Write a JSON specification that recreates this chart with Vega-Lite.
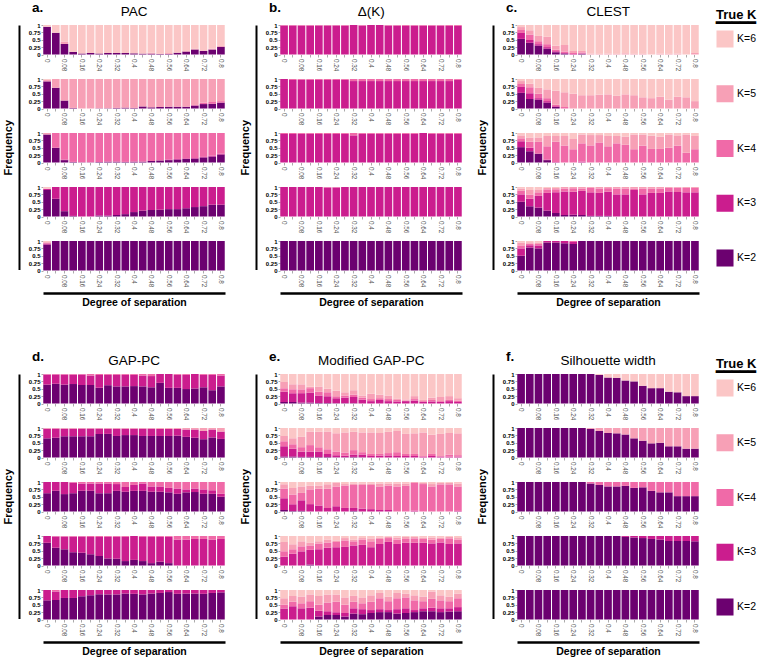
{
"$schema":"https://vega.github.io/schema/vega-lite/v6.json",
"padding":{"left":2,"top":0,"right":0,"bottom":0},
"config":{"font":"Liberation Sans","view":{"stroke":null},
"title":{"fontSize":13.5,"fontWeight":"normal","color":"black","offset":0},
"axisBand":{"labelAngle":90,"labelFontSize":6.3,"labelColor":"#555","tickSize":2.5,"tickColor":"#aaa","domain":false,"labelPadding":1.5,"grid":false},
"axisQuantitative":{"labelFontSize":6,"labelFontWeight":"bold","labelColor":"black","tickSize":2,"tickColor":"#aaa","domain":false,"labelPadding":1,"grid":false},
"legend":{"symbolType":"square","symbolSize":290,"symbolStrokeWidth":0,"rowPadding":36.75,"labelFontSize":10.5,"labelColor":"black","labelOffset":3,"titleFontSize":13,"titleFontWeight":"bold","titleColor":"black","titlePadding":0,"titleLineHeight":8}},
"datasets":{"d":[
{"m":"a","t":6,"s":0,"k2":0.94,"k6":0.06},
{"m":"a","t":6,"s":0.04,"k2":0.74,"k6":0.26},
{"m":"a","t":6,"s":0.08,"k2":0.36,"k5":0.08,"k6":0.56},
{"m":"a","t":6,"s":0.12,"k2":0.09,"k6":0.91},
{"m":"a","t":6,"s":0.16,"k2":0.03,"k6":0.97},
{"m":"a","t":6,"s":0.2,"k2":0.05,"k6":0.95},
{"m":"a","t":6,"s":0.24,"k2":0.03,"k6":0.97},
{"m":"a","t":6,"s":0.28,"k2":0.05,"k6":0.95},
{"m":"a","t":6,"s":0.32,"k2":0.05,"k6":0.95},
{"m":"a","t":6,"s":0.36,"k2":0.05,"k6":0.95},
{"m":"a","t":6,"s":0.4,"k2":0.04,"k6":0.96},
{"m":"a","t":6,"s":0.44,"k2":0.03,"k6":0.97},
{"m":"a","t":6,"s":0.48,"k2":0.03,"k5":0.03,"k6":0.94},
{"m":"a","t":6,"s":0.52,"k2":0.02,"k6":0.98},
{"m":"a","t":6,"s":0.56,"k2":0.02,"k5":0.03,"k6":0.95},
{"m":"a","t":6,"s":0.6,"k2":0.06,"k6":0.94},
{"m":"a","t":6,"s":0.64,"k2":0.1,"k5":0.02,"k6":0.88},
{"m":"a","t":6,"s":0.68,"k2":0.17,"k5":0.02,"k6":0.81},
{"m":"a","t":6,"s":0.72,"k2":0.12,"k5":0.02,"k6":0.86},
{"m":"a","t":6,"s":0.76,"k2":0.17,"k5":0.03,"k6":0.8},
{"m":"a","t":6,"s":0.8,"k2":0.26,"k5":0.03,"k6":0.71},
{"m":"a","t":5,"s":0,"k2":0.92,"k5":0.05,"k6":0.03},
{"m":"a","t":5,"s":0.04,"k2":0.7,"k5":0.3},
{"m":"a","t":5,"s":0.08,"k2":0.27,"k5":0.73},
{"m":"a","t":5,"s":0.12,"k2":0.02,"k5":0.98},
{"m":"a","t":5,"s":0.16,"k5":1},
{"m":"a","t":5,"s":0.2,"k5":1},
{"m":"a","t":5,"s":0.24,"k2":0.01,"k5":0.99},
{"m":"a","t":5,"s":0.28,"k2":0.01,"k5":0.99},
{"m":"a","t":5,"s":0.32,"k2":0.02,"k5":0.98},
{"m":"a","t":5,"s":0.36,"k2":0.03,"k5":0.97},
{"m":"a","t":5,"s":0.4,"k2":0.02,"k5":0.98},
{"m":"a","t":5,"s":0.44,"k2":0.07,"k5":0.93},
{"m":"a","t":5,"s":0.48,"k2":0.04,"k5":0.96},
{"m":"a","t":5,"s":0.52,"k2":0.05,"k5":0.95},
{"m":"a","t":5,"s":0.56,"k2":0.06,"k5":0.94},
{"m":"a","t":5,"s":0.6,"k2":0.06,"k5":0.94},
{"m":"a","t":5,"s":0.64,"k2":0.06,"k5":0.94},
{"m":"a","t":5,"s":0.68,"k2":0.1,"k4":0.02,"k5":0.88},
{"m":"a","t":5,"s":0.72,"k2":0.15,"k4":0.05,"k5":0.8},
{"m":"a","t":5,"s":0.76,"k2":0.16,"k4":0.06,"k5":0.78},
{"m":"a","t":5,"s":0.8,"k2":0.2,"k4":0.05,"k5":0.75},
{"m":"a","t":4,"s":0,"k2":0.95,"k5":0.05},
{"m":"a","t":4,"s":0.04,"k2":0.5,"k4":0.5},
{"m":"a","t":4,"s":0.08,"k2":0.08,"k3":0.02,"k4":0.9},
{"m":"a","t":4,"s":0.12,"k2":0.02,"k4":0.98},
{"m":"a","t":4,"s":0.16,"k2":0.01,"k4":0.99},
{"m":"a","t":4,"s":0.2,"k2":0.01,"k4":0.99},
{"m":"a","t":4,"s":0.24,"k2":0.02,"k4":0.98},
{"m":"a","t":4,"s":0.28,"k2":0.03,"k4":0.97},
{"m":"a","t":4,"s":0.32,"k2":0.03,"k4":0.97},
{"m":"a","t":4,"s":0.36,"k2":0.02,"k4":0.98},
{"m":"a","t":4,"s":0.4,"k2":0.03,"k4":0.97},
{"m":"a","t":4,"s":0.44,"k2":0.03,"k4":0.97},
{"m":"a","t":4,"s":0.48,"k2":0.05,"k4":0.95},
{"m":"a","t":4,"s":0.52,"k2":0.07,"k4":0.93},
{"m":"a","t":4,"s":0.56,"k2":0.08,"k3":0.02,"k4":0.9},
{"m":"a","t":4,"s":0.6,"k2":0.1,"k3":0.02,"k4":0.88},
{"m":"a","t":4,"s":0.64,"k2":0.12,"k3":0.02,"k4":0.86},
{"m":"a","t":4,"s":0.68,"k2":0.13,"k3":0.02,"k4":0.85},
{"m":"a","t":4,"s":0.72,"k2":0.17,"k3":0.02,"k4":0.81},
{"m":"a","t":4,"s":0.76,"k2":0.2,"k3":0.03,"k4":0.77},
{"m":"a","t":4,"s":0.8,"k2":0.27,"k3":0.03,"k4":0.7},
{"m":"a","t":3,"s":0,"k2":0.9,"k3":0.04,"k6":0.06},
{"m":"a","t":3,"s":0.04,"k2":0.6,"k3":0.4},
{"m":"a","t":3,"s":0.08,"k2":0.18,"k3":0.82},
{"m":"a","t":3,"s":0.12,"k2":0.02,"k3":0.98},
{"m":"a","t":3,"s":0.16,"k3":1},
{"m":"a","t":3,"s":0.2,"k3":1},
{"m":"a","t":3,"s":0.24,"k2":0.03,"k3":0.97},
{"m":"a","t":3,"s":0.28,"k2":0.03,"k3":0.97},
{"m":"a","t":3,"s":0.32,"k2":0.05,"k3":0.95},
{"m":"a","t":3,"s":0.36,"k2":0.08,"k3":0.92},
{"m":"a","t":3,"s":0.4,"k2":0.15,"k3":0.85},
{"m":"a","t":3,"s":0.44,"k2":0.2,"k3":0.8},
{"m":"a","t":3,"s":0.48,"k2":0.22,"k3":0.78},
{"m":"a","t":3,"s":0.52,"k2":0.23,"k3":0.77},
{"m":"a","t":3,"s":0.56,"k2":0.25,"k3":0.75},
{"m":"a","t":3,"s":0.6,"k2":0.25,"k3":0.75},
{"m":"a","t":3,"s":0.64,"k2":0.28,"k3":0.72},
{"m":"a","t":3,"s":0.68,"k2":0.32,"k3":0.68},
{"m":"a","t":3,"s":0.72,"k2":0.35,"k3":0.65},
{"m":"a","t":3,"s":0.76,"k2":0.4,"k3":0.6},
{"m":"a","t":3,"s":0.8,"k2":0.4,"k3":0.6},
{"m":"a","t":2,"s":0,"k2":0.88,"k3":0.04,"k5":0.04,"k6":0.04},
{"m":"a","t":2,"s":0.04,"k2":1},
{"m":"a","t":2,"s":0.08,"k2":1},
{"m":"a","t":2,"s":0.12,"k2":1},
{"m":"a","t":2,"s":0.16,"k2":1},
{"m":"a","t":2,"s":0.2,"k2":1},
{"m":"a","t":2,"s":0.24,"k2":1},
{"m":"a","t":2,"s":0.28,"k2":1},
{"m":"a","t":2,"s":0.32,"k2":1},
{"m":"a","t":2,"s":0.36,"k2":1},
{"m":"a","t":2,"s":0.4,"k2":1},
{"m":"a","t":2,"s":0.44,"k2":1},
{"m":"a","t":2,"s":0.48,"k2":1},
{"m":"a","t":2,"s":0.52,"k2":1},
{"m":"a","t":2,"s":0.56,"k2":1},
{"m":"a","t":2,"s":0.6,"k2":1},
{"m":"a","t":2,"s":0.64,"k2":1},
{"m":"a","t":2,"s":0.68,"k2":1},
{"m":"a","t":2,"s":0.72,"k2":1},
{"m":"a","t":2,"s":0.76,"k2":1},
{"m":"a","t":2,"s":0.8,"k2":1},
{"m":"b","t":6,"s":0,"k3":0.98,"k4":0.02},
{"m":"b","t":6,"s":0.04,"k3":0.98,"k4":0.02},
{"m":"b","t":6,"s":0.08,"k3":0.98,"k4":0.02},
{"m":"b","t":6,"s":0.12,"k3":0.98,"k4":0.02},
{"m":"b","t":6,"s":0.16,"k3":0.98,"k4":0.02},
{"m":"b","t":6,"s":0.2,"k3":0.98,"k4":0.02},
{"m":"b","t":6,"s":0.24,"k3":0.98,"k4":0.02},
{"m":"b","t":6,"s":0.28,"k3":0.98,"k4":0.02},
{"m":"b","t":6,"s":0.32,"k3":1},
{"m":"b","t":6,"s":0.36,"k3":0.98,"k4":0.02},
{"m":"b","t":6,"s":0.4,"k3":1},
{"m":"b","t":6,"s":0.44,"k3":1},
{"m":"b","t":6,"s":0.48,"k3":0.98,"k4":0.02},
{"m":"b","t":6,"s":0.52,"k3":0.98,"k4":0.02},
{"m":"b","t":6,"s":0.56,"k3":0.97,"k4":0.03},
{"m":"b","t":6,"s":0.6,"k3":0.98,"k4":0.02},
{"m":"b","t":6,"s":0.64,"k3":0.98,"k4":0.02},
{"m":"b","t":6,"s":0.68,"k3":0.98,"k4":0.02},
{"m":"b","t":6,"s":0.72,"k3":0.98,"k4":0.02},
{"m":"b","t":6,"s":0.76,"k3":0.97,"k4":0.03},
{"m":"b","t":6,"s":0.8,"k3":0.97,"k4":0.03},
{"m":"b","t":5,"s":0,"k3":1},
{"m":"b","t":5,"s":0.04,"k3":0.97,"k4":0.03},
{"m":"b","t":5,"s":0.08,"k3":0.97,"k4":0.03},
{"m":"b","t":5,"s":0.12,"k3":0.97,"k4":0.03},
{"m":"b","t":5,"s":0.16,"k3":0.97,"k4":0.03},
{"m":"b","t":5,"s":0.2,"k3":0.97,"k4":0.03},
{"m":"b","t":5,"s":0.24,"k3":0.97,"k4":0.03},
{"m":"b","t":5,"s":0.28,"k3":0.97,"k4":0.03},
{"m":"b","t":5,"s":0.32,"k3":0.93,"k4":0.07},
{"m":"b","t":5,"s":0.36,"k3":0.93,"k4":0.07},
{"m":"b","t":5,"s":0.4,"k3":0.93,"k4":0.07},
{"m":"b","t":5,"s":0.44,"k3":0.93,"k4":0.07},
{"m":"b","t":5,"s":0.48,"k3":0.93,"k4":0.07},
{"m":"b","t":5,"s":0.52,"k3":0.93,"k4":0.07},
{"m":"b","t":5,"s":0.56,"k3":0.93,"k4":0.07},
{"m":"b","t":5,"s":0.6,"k3":0.93,"k4":0.07},
{"m":"b","t":5,"s":0.64,"k3":0.93,"k4":0.07},
{"m":"b","t":5,"s":0.68,"k3":0.93,"k4":0.07},
{"m":"b","t":5,"s":0.72,"k3":0.93,"k4":0.07},
{"m":"b","t":5,"s":0.76,"k3":0.93,"k4":0.07},
{"m":"b","t":5,"s":0.8,"k3":0.97,"k4":0.03},
{"m":"b","t":4,"s":0,"k3":0.97,"k4":0.03},
{"m":"b","t":4,"s":0.04,"k3":0.97,"k4":0.03},
{"m":"b","t":4,"s":0.08,"k3":0.97,"k4":0.03},
{"m":"b","t":4,"s":0.12,"k3":0.97,"k4":0.03},
{"m":"b","t":4,"s":0.16,"k3":0.97,"k4":0.03},
{"m":"b","t":4,"s":0.2,"k3":0.97,"k4":0.03},
{"m":"b","t":4,"s":0.24,"k3":0.97,"k4":0.03},
{"m":"b","t":4,"s":0.28,"k3":0.97,"k4":0.03},
{"m":"b","t":4,"s":0.32,"k3":0.92,"k4":0.08},
{"m":"b","t":4,"s":0.36,"k3":0.97,"k4":0.03},
{"m":"b","t":4,"s":0.4,"k3":0.97,"k4":0.03},
{"m":"b","t":4,"s":0.44,"k3":0.97,"k4":0.03},
{"m":"b","t":4,"s":0.48,"k3":0.97,"k4":0.03},
{"m":"b","t":4,"s":0.52,"k3":0.97,"k4":0.03},
{"m":"b","t":4,"s":0.56,"k3":0.97,"k4":0.03},
{"m":"b","t":4,"s":0.6,"k3":0.97,"k4":0.03},
{"m":"b","t":4,"s":0.64,"k3":1},
{"m":"b","t":4,"s":0.68,"k3":0.97,"k4":0.03},
{"m":"b","t":4,"s":0.72,"k3":0.97,"k4":0.03},
{"m":"b","t":4,"s":0.76,"k3":0.97,"k4":0.03},
{"m":"b","t":4,"s":0.8,"k3":0.97,"k4":0.03},
{"m":"b","t":3,"s":0,"k3":1},
{"m":"b","t":3,"s":0.04,"k3":1},
{"m":"b","t":3,"s":0.08,"k3":1},
{"m":"b","t":3,"s":0.12,"k3":1},
{"m":"b","t":3,"s":0.16,"k3":1},
{"m":"b","t":3,"s":0.2,"k3":0.98,"k4":0.02},
{"m":"b","t":3,"s":0.24,"k3":0.98,"k4":0.02},
{"m":"b","t":3,"s":0.28,"k3":1},
{"m":"b","t":3,"s":0.32,"k3":1},
{"m":"b","t":3,"s":0.36,"k3":1},
{"m":"b","t":3,"s":0.4,"k3":1},
{"m":"b","t":3,"s":0.44,"k3":1},
{"m":"b","t":3,"s":0.48,"k3":1},
{"m":"b","t":3,"s":0.52,"k3":1},
{"m":"b","t":3,"s":0.56,"k3":1},
{"m":"b","t":3,"s":0.6,"k3":1},
{"m":"b","t":3,"s":0.64,"k3":1},
{"m":"b","t":3,"s":0.68,"k3":1},
{"m":"b","t":3,"s":0.72,"k3":1},
{"m":"b","t":3,"s":0.76,"k3":1},
{"m":"b","t":3,"s":0.8,"k3":1},
{"m":"b","t":2,"s":0,"k2":1},
{"m":"b","t":2,"s":0.04,"k2":1},
{"m":"b","t":2,"s":0.08,"k2":1},
{"m":"b","t":2,"s":0.12,"k2":1},
{"m":"b","t":2,"s":0.16,"k2":1},
{"m":"b","t":2,"s":0.2,"k2":1},
{"m":"b","t":2,"s":0.24,"k2":1},
{"m":"b","t":2,"s":0.28,"k2":1},
{"m":"b","t":2,"s":0.32,"k2":1},
{"m":"b","t":2,"s":0.36,"k2":1},
{"m":"b","t":2,"s":0.4,"k2":1},
{"m":"b","t":2,"s":0.44,"k2":1},
{"m":"b","t":2,"s":0.48,"k2":1},
{"m":"b","t":2,"s":0.52,"k2":1},
{"m":"b","t":2,"s":0.56,"k2":1},
{"m":"b","t":2,"s":0.6,"k2":1},
{"m":"b","t":2,"s":0.64,"k2":1},
{"m":"b","t":2,"s":0.68,"k2":1},
{"m":"b","t":2,"s":0.72,"k2":1},
{"m":"b","t":2,"s":0.76,"k2":1},
{"m":"b","t":2,"s":0.8,"k2":1},
{"m":"c","t":6,"s":0,"k2":0.53,"k3":0.2,"k4":0.1,"k5":0.1,"k6":0.07},
{"m":"c","t":6,"s":0.04,"k2":0.4,"k3":0.09,"k4":0.19,"k5":0.14,"k6":0.18},
{"m":"c","t":6,"s":0.08,"k2":0.3,"k3":0.05,"k4":0.1,"k5":0.18,"k6":0.37},
{"m":"c","t":6,"s":0.12,"k2":0.2,"k3":0.05,"k4":0.1,"k5":0.25,"k6":0.4},
{"m":"c","t":6,"s":0.16,"k2":0.08,"k3":0.03,"k4":0.05,"k5":0.14,"k6":0.7},
{"m":"c","t":6,"s":0.2,"k2":0.03,"k3":0.02,"k4":0.05,"k5":0.22,"k6":0.68},
{"m":"c","t":6,"s":0.24,"k3":0.02,"k4":0.03,"k5":0.07,"k6":0.88},
{"m":"c","t":6,"s":0.28,"k2":0.03,"k4":0.04,"k5":0.05,"k6":0.88},
{"m":"c","t":6,"s":0.32,"k5":0.03,"k6":0.97},
{"m":"c","t":6,"s":0.36,"k5":0.02,"k6":0.98},
{"m":"c","t":6,"s":0.4,"k5":0.03,"k6":0.97},
{"m":"c","t":6,"s":0.44,"k5":0.02,"k6":0.98},
{"m":"c","t":6,"s":0.48,"k5":0.04,"k6":0.96},
{"m":"c","t":6,"s":0.52,"k5":0.02,"k6":0.98},
{"m":"c","t":6,"s":0.56,"k5":0.02,"k6":0.98},
{"m":"c","t":6,"s":0.6,"k6":1},
{"m":"c","t":6,"s":0.64,"k5":0.03,"k6":0.97},
{"m":"c","t":6,"s":0.68,"k5":0.02,"k6":0.98},
{"m":"c","t":6,"s":0.72,"k5":0.03,"k6":0.97},
{"m":"c","t":6,"s":0.76,"k6":1},
{"m":"c","t":6,"s":0.8,"k5":0.05,"k6":0.95},
{"m":"c","t":5,"s":0,"k2":0.53,"k3":0.2,"k4":0.1,"k5":0.1,"k6":0.07},
{"m":"c","t":5,"s":0.04,"k2":0.32,"k3":0.2,"k4":0.2,"k5":0.12,"k6":0.16},
{"m":"c","t":5,"s":0.08,"k2":0.3,"k3":0.05,"k4":0.15,"k5":0.2,"k6":0.3},
{"m":"c","t":5,"s":0.12,"k2":0.2,"k3":0.05,"k4":0.1,"k5":0.3,"k6":0.35},
{"m":"c","t":5,"s":0.16,"k2":0.05,"k3":0.03,"k4":0.05,"k5":0.47,"k6":0.4},
{"m":"c","t":5,"s":0.2,"k4":0.05,"k5":0.5,"k6":0.45},
{"m":"c","t":5,"s":0.24,"k5":0.5,"k6":0.5},
{"m":"c","t":5,"s":0.28,"k5":0.45,"k6":0.55},
{"m":"c","t":5,"s":0.32,"k5":0.45,"k6":0.55},
{"m":"c","t":5,"s":0.36,"k5":0.47,"k6":0.53},
{"m":"c","t":5,"s":0.4,"k5":0.48,"k6":0.52},
{"m":"c","t":5,"s":0.44,"k5":0.43,"k6":0.57},
{"m":"c","t":5,"s":0.48,"k5":0.48,"k6":0.52},
{"m":"c","t":5,"s":0.52,"k5":0.45,"k6":0.55},
{"m":"c","t":5,"s":0.56,"k5":0.38,"k6":0.62},
{"m":"c","t":5,"s":0.6,"k5":0.35,"k6":0.65},
{"m":"c","t":5,"s":0.64,"k5":0.4,"k6":0.6},
{"m":"c","t":5,"s":0.68,"k5":0.3,"k6":0.7},
{"m":"c","t":5,"s":0.72,"k5":0.4,"k6":0.6},
{"m":"c","t":5,"s":0.76,"k5":0.38,"k6":0.62},
{"m":"c","t":5,"s":0.8,"k5":0.25,"k6":0.75},
{"m":"c","t":4,"s":0,"k2":0.52,"k3":0.2,"k4":0.1,"k5":0.1,"k6":0.08},
{"m":"c","t":4,"s":0.04,"k2":0.38,"k3":0.12,"k4":0.2,"k5":0.15,"k6":0.15},
{"m":"c","t":4,"s":0.08,"k2":0.3,"k4":0.4,"k5":0.15,"k6":0.15},
{"m":"c","t":4,"s":0.12,"k2":0.08,"k3":0.02,"k4":0.45,"k5":0.35,"k6":0.1},
{"m":"c","t":4,"s":0.16,"k3":0.02,"k4":0.68,"k5":0.2,"k6":0.1},
{"m":"c","t":4,"s":0.2,"k4":0.58,"k5":0.32,"k6":0.1},
{"m":"c","t":4,"s":0.24,"k4":0.45,"k5":0.35,"k6":0.2},
{"m":"c","t":4,"s":0.28,"k3":0.03,"k4":0.62,"k5":0.3,"k6":0.05},
{"m":"c","t":4,"s":0.32,"k4":0.58,"k5":0.35,"k6":0.07},
{"m":"c","t":4,"s":0.36,"k4":0.68,"k5":0.25,"k6":0.07},
{"m":"c","t":4,"s":0.4,"k4":0.55,"k5":0.35,"k6":0.1},
{"m":"c","t":4,"s":0.44,"k4":0.65,"k5":0.25,"k6":0.1},
{"m":"c","t":4,"s":0.48,"k4":0.6,"k5":0.28,"k6":0.12},
{"m":"c","t":4,"s":0.52,"k4":0.45,"k5":0.5,"k6":0.05},
{"m":"c","t":4,"s":0.56,"k4":0.57,"k5":0.38,"k6":0.05},
{"m":"c","t":4,"s":0.6,"k4":0.46,"k5":0.45,"k6":0.09},
{"m":"c","t":4,"s":0.64,"k4":0.46,"k5":0.42,"k6":0.12},
{"m":"c","t":4,"s":0.68,"k4":0.5,"k5":0.45,"k6":0.05},
{"m":"c","t":4,"s":0.72,"k4":0.57,"k5":0.35,"k6":0.08},
{"m":"c","t":4,"s":0.76,"k4":0.33,"k5":0.62,"k6":0.05},
{"m":"c","t":4,"s":0.8,"k4":0.45,"k5":0.45,"k6":0.1},
{"m":"c","t":3,"s":0,"k2":0.5,"k3":0.25,"k4":0.12,"k5":0.08,"k6":0.05},
{"m":"c","t":3,"s":0.04,"k2":0.35,"k3":0.25,"k4":0.15,"k5":0.15,"k6":0.1},
{"m":"c","t":3,"s":0.08,"k2":0.3,"k3":0.4,"k4":0.12,"k5":0.1,"k6":0.08},
{"m":"c","t":3,"s":0.12,"k2":0.2,"k3":0.6,"k4":0.12,"k5":0.05,"k6":0.03},
{"m":"c","t":3,"s":0.16,"k2":0.12,"k3":0.7,"k4":0.1,"k5":0.05,"k6":0.03},
{"m":"c","t":3,"s":0.2,"k2":0.05,"k3":0.8,"k4":0.1,"k5":0.05},
{"m":"c","t":3,"s":0.24,"k2":0.06,"k3":0.78,"k4":0.12,"k5":0.04},
{"m":"c","t":3,"s":0.28,"k2":0.05,"k3":0.82,"k4":0.08,"k5":0.05},
{"m":"c","t":3,"s":0.32,"k2":0.02,"k3":0.8,"k4":0.15,"k5":0.03},
{"m":"c","t":3,"s":0.36,"k2":0.02,"k3":0.78,"k4":0.15,"k5":0.05},
{"m":"c","t":3,"s":0.4,"k2":0.02,"k3":0.82,"k4":0.12,"k5":0.04},
{"m":"c","t":3,"s":0.44,"k3":0.75,"k4":0.2,"k5":0.05},
{"m":"c","t":3,"s":0.48,"k3":0.75,"k4":0.2,"k5":0.05},
{"m":"c","t":3,"s":0.52,"k3":0.9,"k4":0.05,"k5":0.05},
{"m":"c","t":3,"s":0.56,"k3":0.75,"k4":0.2,"k5":0.05},
{"m":"c","t":3,"s":0.6,"k3":0.8,"k4":0.15,"k5":0.05},
{"m":"c","t":3,"s":0.64,"k3":0.8,"k4":0.15,"k5":0.05},
{"m":"c","t":3,"s":0.68,"k3":0.85,"k4":0.12,"k5":0.03},
{"m":"c","t":3,"s":0.72,"k3":0.83,"k4":0.15,"k5":0.02},
{"m":"c","t":3,"s":0.76,"k3":0.82,"k4":0.15,"k5":0.03},
{"m":"c","t":3,"s":0.8,"k3":0.82,"k4":0.15,"k5":0.03},
{"m":"c","t":2,"s":0,"k2":0.5,"k3":0.25,"k4":0.1,"k5":0.1,"k6":0.05},
{"m":"c","t":2,"s":0.04,"k2":0.78,"k3":0.08,"k4":0.05,"k5":0.05,"k6":0.04},
{"m":"c","t":2,"s":0.08,"k2":0.75,"k3":0.1,"k4":0.05,"k5":0.05,"k6":0.05},
{"m":"c","t":2,"s":0.12,"k2":0.95,"k3":0.05},
{"m":"c","t":2,"s":0.16,"k2":0.95,"k3":0.05},
{"m":"c","t":2,"s":0.2,"k2":0.92,"k3":0.08},
{"m":"c","t":2,"s":0.24,"k2":0.9,"k3":0.07,"k4":0.03},
{"m":"c","t":2,"s":0.28,"k2":1},
{"m":"c","t":2,"s":0.32,"k2":1},
{"m":"c","t":2,"s":0.36,"k2":1},
{"m":"c","t":2,"s":0.4,"k2":1},
{"m":"c","t":2,"s":0.44,"k2":1},
{"m":"c","t":2,"s":0.48,"k2":1},
{"m":"c","t":2,"s":0.52,"k2":1},
{"m":"c","t":2,"s":0.56,"k2":1},
{"m":"c","t":2,"s":0.6,"k2":1},
{"m":"c","t":2,"s":0.64,"k2":1},
{"m":"c","t":2,"s":0.68,"k2":1},
{"m":"c","t":2,"s":0.72,"k2":1},
{"m":"c","t":2,"s":0.76,"k2":1},
{"m":"c","t":2,"s":0.8,"k2":1},
{"m":"d","t":6,"s":0,"k2":0.64,"k3":0.34,"k4":0.02},
{"m":"d","t":6,"s":0.04,"k2":0.67,"k3":0.31,"k4":0.02},
{"m":"d","t":6,"s":0.08,"k2":0.64,"k3":0.34,"k4":0.02},
{"m":"d","t":6,"s":0.12,"k2":0.66,"k3":0.32,"k4":0.02},
{"m":"d","t":6,"s":0.16,"k2":0.63,"k3":0.35,"k4":0.02},
{"m":"d","t":6,"s":0.2,"k2":0.63,"k3":0.32,"k4":0.05},
{"m":"d","t":6,"s":0.24,"k2":0.53,"k3":0.44,"k4":0.03},
{"m":"d","t":6,"s":0.28,"k2":0.62,"k3":0.35,"k4":0.03},
{"m":"d","t":6,"s":0.32,"k2":0.58,"k3":0.39,"k4":0.03},
{"m":"d","t":6,"s":0.36,"k2":0.58,"k3":0.39,"k4":0.03},
{"m":"d","t":6,"s":0.4,"k2":0.59,"k3":0.38,"k4":0.03},
{"m":"d","t":6,"s":0.44,"k2":0.58,"k3":0.37,"k4":0.05},
{"m":"d","t":6,"s":0.48,"k2":0.55,"k3":0.38,"k4":0.07},
{"m":"d","t":6,"s":0.52,"k2":0.7,"k3":0.3},
{"m":"d","t":6,"s":0.56,"k2":0.53,"k3":0.47},
{"m":"d","t":6,"s":0.6,"k2":0.53,"k3":0.44,"k4":0.03},
{"m":"d","t":6,"s":0.64,"k2":0.49,"k3":0.48,"k4":0.03},
{"m":"d","t":6,"s":0.68,"k2":0.51,"k3":0.49},
{"m":"d","t":6,"s":0.72,"k2":0.55,"k3":0.42,"k4":0.03},
{"m":"d","t":6,"s":0.76,"k2":0.45,"k3":0.52,"k4":0.03},
{"m":"d","t":6,"s":0.8,"k2":0.58,"k3":0.37,"k4":0.05},
{"m":"d","t":5,"s":0,"k2":0.65,"k3":0.33,"k5":0.02},
{"m":"d","t":5,"s":0.04,"k2":0.67,"k3":0.31,"k5":0.02},
{"m":"d","t":5,"s":0.08,"k2":0.72,"k3":0.26,"k5":0.02},
{"m":"d","t":5,"s":0.12,"k2":0.72,"k3":0.26,"k5":0.02},
{"m":"d","t":5,"s":0.16,"k2":0.72,"k3":0.26,"k5":0.02},
{"m":"d","t":5,"s":0.2,"k2":0.72,"k3":0.26,"k5":0.02},
{"m":"d","t":5,"s":0.24,"k2":0.8,"k3":0.18,"k5":0.02},
{"m":"d","t":5,"s":0.28,"k2":0.8,"k3":0.18,"k5":0.02},
{"m":"d","t":5,"s":0.32,"k2":0.73,"k3":0.25,"k5":0.02},
{"m":"d","t":5,"s":0.36,"k2":0.76,"k3":0.22,"k5":0.02},
{"m":"d","t":5,"s":0.4,"k2":0.76,"k3":0.22,"k5":0.02},
{"m":"d","t":5,"s":0.44,"k2":0.73,"k3":0.25,"k5":0.02},
{"m":"d","t":5,"s":0.48,"k2":0.73,"k3":0.25,"k5":0.02},
{"m":"d","t":5,"s":0.52,"k2":0.73,"k3":0.24,"k5":0.03},
{"m":"d","t":5,"s":0.56,"k2":0.73,"k3":0.24,"k5":0.03},
{"m":"d","t":5,"s":0.6,"k2":0.74,"k3":0.23,"k5":0.03},
{"m":"d","t":5,"s":0.64,"k2":0.7,"k3":0.25,"k5":0.05},
{"m":"d","t":5,"s":0.68,"k2":0.67,"k3":0.28,"k5":0.05},
{"m":"d","t":5,"s":0.72,"k2":0.62,"k3":0.28,"k5":0.1},
{"m":"d","t":5,"s":0.76,"k2":0.68,"k3":0.27,"k5":0.05},
{"m":"d","t":5,"s":0.8,"k2":0.63,"k3":0.25,"k5":0.12},
{"m":"d","t":4,"s":0,"k2":0.62,"k3":0.38},
{"m":"d","t":4,"s":0.04,"k2":0.7,"k3":0.3},
{"m":"d","t":4,"s":0.08,"k2":0.59,"k3":0.41},
{"m":"d","t":4,"s":0.12,"k2":0.62,"k3":0.36,"k4":0.02},
{"m":"d","t":4,"s":0.16,"k2":0.7,"k3":0.25,"k4":0.05},
{"m":"d","t":4,"s":0.2,"k2":0.7,"k3":0.25,"k4":0.05},
{"m":"d","t":4,"s":0.24,"k2":0.62,"k3":0.33,"k4":0.05},
{"m":"d","t":4,"s":0.28,"k2":0.62,"k3":0.33,"k4":0.05},
{"m":"d","t":4,"s":0.32,"k2":0.7,"k3":0.23,"k4":0.07},
{"m":"d","t":4,"s":0.36,"k2":0.67,"k3":0.16,"k4":0.17},
{"m":"d","t":4,"s":0.4,"k2":0.7,"k3":0.2,"k4":0.1},
{"m":"d","t":4,"s":0.44,"k2":0.7,"k3":0.25,"k4":0.05},
{"m":"d","t":4,"s":0.48,"k2":0.67,"k3":0.18,"k4":0.15},
{"m":"d","t":4,"s":0.52,"k2":0.67,"k3":0.18,"k4":0.15},
{"m":"d","t":4,"s":0.56,"k2":0.65,"k3":0.15,"k4":0.2},
{"m":"d","t":4,"s":0.6,"k2":0.6,"k3":0.18,"k4":0.22},
{"m":"d","t":4,"s":0.64,"k2":0.65,"k3":0.1,"k4":0.25},
{"m":"d","t":4,"s":0.68,"k2":0.66,"k3":0.12,"k4":0.22},
{"m":"d","t":4,"s":0.72,"k2":0.6,"k3":0.15,"k4":0.25},
{"m":"d","t":4,"s":0.76,"k2":0.6,"k3":0.12,"k4":0.28},
{"m":"d","t":4,"s":0.8,"k2":0.5,"k3":0.1,"k4":0.4},
{"m":"d","t":3,"s":0,"k2":0.77,"k3":0.23},
{"m":"d","t":3,"s":0.04,"k2":0.6,"k3":0.38,"k4":0.02},
{"m":"d","t":3,"s":0.08,"k2":0.55,"k3":0.43,"k4":0.02},
{"m":"d","t":3,"s":0.12,"k2":0.45,"k3":0.53,"k4":0.02},
{"m":"d","t":3,"s":0.16,"k2":0.43,"k3":0.55,"k4":0.02},
{"m":"d","t":3,"s":0.2,"k2":0.38,"k3":0.59,"k4":0.03},
{"m":"d","t":3,"s":0.24,"k2":0.32,"k3":0.65,"k4":0.03},
{"m":"d","t":3,"s":0.28,"k2":0.24,"k3":0.73,"k4":0.03},
{"m":"d","t":3,"s":0.32,"k2":0.23,"k3":0.74,"k4":0.03},
{"m":"d","t":3,"s":0.36,"k2":0.15,"k3":0.82,"k4":0.03},
{"m":"d","t":3,"s":0.4,"k2":0.19,"k3":0.81},
{"m":"d","t":3,"s":0.44,"k2":0.15,"k3":0.82,"k4":0.03},
{"m":"d","t":3,"s":0.48,"k2":0.08,"k3":0.89,"k4":0.03},
{"m":"d","t":3,"s":0.52,"k2":0.13,"k3":0.84,"k4":0.03},
{"m":"d","t":3,"s":0.56,"k2":0.08,"k3":0.89,"k4":0.03},
{"m":"d","t":3,"s":0.6,"k3":0.88,"k4":0.12},
{"m":"d","t":3,"s":0.64,"k3":0.88,"k4":0.12},
{"m":"d","t":3,"s":0.68,"k3":0.9,"k4":0.1},
{"m":"d","t":3,"s":0.72,"k3":0.9,"k4":0.1},
{"m":"d","t":3,"s":0.76,"k3":0.88,"k4":0.12},
{"m":"d","t":3,"s":0.8,"k3":0.9,"k4":0.1},
{"m":"d","t":2,"s":0,"k2":0.65,"k3":0.35},
{"m":"d","t":2,"s":0.04,"k2":0.66,"k3":0.29,"k4":0.05},
{"m":"d","t":2,"s":0.08,"k2":0.73,"k3":0.27},
{"m":"d","t":2,"s":0.12,"k2":0.73,"k3":0.27},
{"m":"d","t":2,"s":0.16,"k2":0.79,"k3":0.21},
{"m":"d","t":2,"s":0.2,"k2":0.82,"k3":0.18},
{"m":"d","t":2,"s":0.24,"k2":0.86,"k3":0.14},
{"m":"d","t":2,"s":0.28,"k2":0.85,"k3":0.15},
{"m":"d","t":2,"s":0.32,"k2":0.85,"k3":0.15},
{"m":"d","t":2,"s":0.36,"k2":0.88,"k3":0.12},
{"m":"d","t":2,"s":0.4,"k2":0.87,"k3":0.13},
{"m":"d","t":2,"s":0.44,"k2":0.85,"k3":0.15},
{"m":"d","t":2,"s":0.48,"k2":0.88,"k3":0.12},
{"m":"d","t":2,"s":0.52,"k2":0.9,"k3":0.1},
{"m":"d","t":2,"s":0.56,"k2":0.93,"k3":0.07},
{"m":"d","t":2,"s":0.6,"k2":0.87,"k3":0.13},
{"m":"d","t":2,"s":0.64,"k2":0.88,"k3":0.12},
{"m":"d","t":2,"s":0.68,"k2":0.88,"k3":0.12},
{"m":"d","t":2,"s":0.72,"k2":0.87,"k3":0.13},
{"m":"d","t":2,"s":0.76,"k2":0.9,"k3":0.1},
{"m":"d","t":2,"s":0.8,"k2":0.92,"k3":0.08},
{"m":"e","t":6,"s":0,"k2":0.05,"k3":0.35,"k4":0.12,"k5":0.21,"k6":0.27},
{"m":"e","t":6,"s":0.04,"k2":0.05,"k3":0.3,"k4":0.13,"k5":0.17,"k6":0.35},
{"m":"e","t":6,"s":0.08,"k2":0.03,"k3":0.32,"k4":0.13,"k5":0.17,"k6":0.35},
{"m":"e","t":6,"s":0.12,"k2":0.03,"k3":0.34,"k4":0.15,"k5":0.05,"k6":0.43},
{"m":"e","t":6,"s":0.16,"k2":0.02,"k3":0.25,"k4":0.13,"k5":0.18,"k6":0.42},
{"m":"e","t":6,"s":0.2,"k2":0.02,"k3":0.23,"k4":0.13,"k5":0.12,"k6":0.5},
{"m":"e","t":6,"s":0.24,"k2":0.01,"k3":0.17,"k4":0.07,"k5":0.18,"k6":0.57},
{"m":"e","t":6,"s":0.28,"k2":0.01,"k3":0.19,"k4":0.07,"k5":0.11,"k6":0.62},
{"m":"e","t":6,"s":0.32,"k2":0.01,"k3":0.21,"k4":0.08,"k5":0.15,"k6":0.55},
{"m":"e","t":6,"s":0.36,"k3":0.13,"k4":0.07,"k5":0.07,"k6":0.73},
{"m":"e","t":6,"s":0.4,"k3":0.08,"k4":0.07,"k5":0.18,"k6":0.67},
{"m":"e","t":6,"s":0.44,"k3":0.12,"k4":0.06,"k5":0.12,"k6":0.7},
{"m":"e","t":6,"s":0.48,"k3":0.08,"k4":0.07,"k5":0.12,"k6":0.73},
{"m":"e","t":6,"s":0.52,"k3":0.07,"k4":0.05,"k5":0.05,"k6":0.83},
{"m":"e","t":6,"s":0.56,"k3":0.08,"k4":0.02,"k5":0.04,"k6":0.86},
{"m":"e","t":6,"s":0.6,"k3":0.1,"k4":0.05,"k5":0.1,"k6":0.75},
{"m":"e","t":6,"s":0.64,"k3":0.05,"k4":0.03,"k5":0.04,"k6":0.88},
{"m":"e","t":6,"s":0.68,"k3":0.07,"k4":0.05,"k5":0.08,"k6":0.8},
{"m":"e","t":6,"s":0.72,"k3":0.05,"k4":0.03,"k5":0.14,"k6":0.78},
{"m":"e","t":6,"s":0.76,"k3":0.08,"k4":0.04,"k5":0.13,"k6":0.75},
{"m":"e","t":6,"s":0.8,"k3":0.05,"k4":0.05,"k5":0.08,"k6":0.82},
{"m":"e","t":5,"s":0,"k2":0.03,"k3":0.35,"k4":0.17,"k5":0.18,"k6":0.27},
{"m":"e","t":5,"s":0.04,"k2":0.03,"k3":0.27,"k4":0.15,"k5":0.2,"k6":0.35},
{"m":"e","t":5,"s":0.08,"k2":0.02,"k3":0.18,"k4":0.15,"k5":0.35,"k6":0.3},
{"m":"e","t":5,"s":0.12,"k2":0.02,"k3":0.18,"k4":0.22,"k5":0.46,"k6":0.12},
{"m":"e","t":5,"s":0.16,"k2":0.02,"k3":0.18,"k4":0.15,"k5":0.52,"k6":0.13},
{"m":"e","t":5,"s":0.2,"k2":0.02,"k3":0.1,"k4":0.16,"k5":0.6,"k6":0.12},
{"m":"e","t":5,"s":0.24,"k2":0.01,"k3":0.07,"k4":0.12,"k5":0.62,"k6":0.18},
{"m":"e","t":5,"s":0.28,"k2":0.01,"k3":0.05,"k4":0.11,"k5":0.68,"k6":0.15},
{"m":"e","t":5,"s":0.32,"k2":0.02,"k3":0.08,"k4":0.15,"k5":0.62,"k6":0.13},
{"m":"e","t":5,"s":0.36,"k2":0.01,"k3":0.09,"k4":0.08,"k5":0.67,"k6":0.15},
{"m":"e","t":5,"s":0.4,"k3":0.05,"k4":0.07,"k5":0.73,"k6":0.15},
{"m":"e","t":5,"s":0.44,"k3":0.06,"k4":0.06,"k5":0.71,"k6":0.17},
{"m":"e","t":5,"s":0.48,"k3":0.07,"k4":0.08,"k5":0.72,"k6":0.13},
{"m":"e","t":5,"s":0.52,"k3":0.05,"k4":0.13,"k5":0.72,"k6":0.1},
{"m":"e","t":5,"s":0.56,"k3":0.05,"k4":0.07,"k5":0.68,"k6":0.2},
{"m":"e","t":5,"s":0.6,"k3":0.05,"k4":0.07,"k5":0.7,"k6":0.18},
{"m":"e","t":5,"s":0.64,"k3":0.03,"k4":0.02,"k5":0.8,"k6":0.15},
{"m":"e","t":5,"s":0.68,"k3":0.05,"k4":0.07,"k5":0.65,"k6":0.23},
{"m":"e","t":5,"s":0.72,"k3":0.03,"k4":0.02,"k5":0.75,"k6":0.2},
{"m":"e","t":5,"s":0.76,"k3":0.03,"k4":0.07,"k5":0.73,"k6":0.17},
{"m":"e","t":5,"s":0.8,"k3":0.03,"k4":0.05,"k5":0.74,"k6":0.18},
{"m":"e","t":4,"s":0,"k2":0.05,"k3":0.4,"k4":0.33,"k5":0.14,"k6":0.08},
{"m":"e","t":4,"s":0.04,"k2":0.02,"k3":0.23,"k4":0.33,"k5":0.22,"k6":0.2},
{"m":"e","t":4,"s":0.08,"k2":0.02,"k3":0.36,"k4":0.25,"k5":0.22,"k6":0.15},
{"m":"e","t":4,"s":0.12,"k3":0.25,"k4":0.5,"k5":0.13,"k6":0.12},
{"m":"e","t":4,"s":0.16,"k3":0.2,"k4":0.57,"k5":0.11,"k6":0.12},
{"m":"e","t":4,"s":0.2,"k3":0.12,"k4":0.65,"k5":0.15,"k6":0.08},
{"m":"e","t":4,"s":0.24,"k3":0.18,"k4":0.67,"k5":0.13,"k6":0.02},
{"m":"e","t":4,"s":0.28,"k3":0.12,"k4":0.76,"k5":0.05,"k6":0.07},
{"m":"e","t":4,"s":0.32,"k2":0.02,"k3":0.1,"k4":0.78,"k5":0.05,"k6":0.05},
{"m":"e","t":4,"s":0.36,"k3":0.1,"k4":0.8,"k5":0.05,"k6":0.05},
{"m":"e","t":4,"s":0.4,"k3":0.08,"k4":0.82,"k5":0.05,"k6":0.05},
{"m":"e","t":4,"s":0.44,"k3":0.05,"k4":0.8,"k5":0.1,"k6":0.05},
{"m":"e","t":4,"s":0.48,"k3":0.05,"k4":0.83,"k5":0.07,"k6":0.05},
{"m":"e","t":4,"s":0.52,"k4":0.85,"k5":0.1,"k6":0.05},
{"m":"e","t":4,"s":0.56,"k4":0.87,"k5":0.08,"k6":0.05},
{"m":"e","t":4,"s":0.6,"k3":0.03,"k4":0.94,"k5":0.03},
{"m":"e","t":4,"s":0.64,"k4":0.93,"k5":0.04,"k6":0.03},
{"m":"e","t":4,"s":0.68,"k4":0.85,"k5":0.08,"k6":0.07},
{"m":"e","t":4,"s":0.72,"k4":0.92,"k5":0.05,"k6":0.03},
{"m":"e","t":4,"s":0.76,"k4":0.92,"k5":0.05,"k6":0.03},
{"m":"e","t":4,"s":0.8,"k3":0.02,"k4":0.83,"k5":0.1,"k6":0.05},
{"m":"e","t":3,"s":0,"k3":0.3,"k4":0.18,"k5":0.32,"k6":0.2},
{"m":"e","t":3,"s":0.04,"k3":0.4,"k4":0.15,"k5":0.17,"k6":0.28},
{"m":"e","t":3,"s":0.08,"k3":0.48,"k4":0.17,"k5":0.17,"k6":0.18},
{"m":"e","t":3,"s":0.12,"k2":0.03,"k3":0.5,"k4":0.15,"k5":0.1,"k6":0.22},
{"m":"e","t":3,"s":0.16,"k3":0.55,"k4":0.2,"k5":0.07,"k6":0.18},
{"m":"e","t":3,"s":0.2,"k3":0.6,"k4":0.18,"k5":0.1,"k6":0.12},
{"m":"e","t":3,"s":0.24,"k3":0.62,"k4":0.18,"k5":0.05,"k6":0.15},
{"m":"e","t":3,"s":0.28,"k3":0.63,"k4":0.22,"k5":0.08,"k6":0.07},
{"m":"e","t":3,"s":0.32,"k3":0.68,"k4":0.14,"k5":0.06,"k6":0.12},
{"m":"e","t":3,"s":0.36,"k3":0.7,"k4":0.18,"k5":0.05,"k6":0.07},
{"m":"e","t":3,"s":0.4,"k3":0.62,"k4":0.2,"k5":0.1,"k6":0.08},
{"m":"e","t":3,"s":0.44,"k3":0.73,"k4":0.17,"k5":0.05,"k6":0.05},
{"m":"e","t":3,"s":0.48,"k3":0.8,"k4":0.13,"k5":0.05,"k6":0.02},
{"m":"e","t":3,"s":0.52,"k3":0.73,"k4":0.15,"k5":0.07,"k6":0.05},
{"m":"e","t":3,"s":0.56,"k3":0.77,"k4":0.13,"k5":0.07,"k6":0.03},
{"m":"e","t":3,"s":0.6,"k3":0.77,"k4":0.15,"k5":0.05,"k6":0.03},
{"m":"e","t":3,"s":0.64,"k3":0.77,"k4":0.13,"k5":0.05,"k6":0.05},
{"m":"e","t":3,"s":0.68,"k3":0.75,"k4":0.13,"k5":0.07,"k6":0.05},
{"m":"e","t":3,"s":0.72,"k3":0.78,"k4":0.12,"k5":0.05,"k6":0.05},
{"m":"e","t":3,"s":0.76,"k3":0.73,"k4":0.19,"k5":0.05,"k6":0.03},
{"m":"e","t":3,"s":0.8,"k3":0.75,"k4":0.13,"k5":0.05,"k6":0.07},
{"m":"e","t":2,"s":0,"k3":0.37,"k4":0.13,"k5":0.22,"k6":0.28},
{"m":"e","t":2,"s":0.04,"k3":0.45,"k4":0.15,"k5":0.2,"k6":0.2},
{"m":"e","t":2,"s":0.08,"k3":0.38,"k4":0.17,"k5":0.23,"k6":0.22},
{"m":"e","t":2,"s":0.12,"k3":0.4,"k4":0.22,"k5":0.23,"k6":0.15},
{"m":"e","t":2,"s":0.16,"k2":0.1,"k3":0.2,"k4":0.2,"k5":0.3,"k6":0.2},
{"m":"e","t":2,"s":0.2,"k2":0.15,"k3":0.13,"k4":0.3,"k5":0.27,"k6":0.15},
{"m":"e","t":2,"s":0.24,"k2":0.15,"k3":0.1,"k4":0.35,"k5":0.25,"k6":0.15},
{"m":"e","t":2,"s":0.28,"k2":0.1,"k3":0.12,"k4":0.28,"k5":0.25,"k6":0.25},
{"m":"e","t":2,"s":0.32,"k2":0.2,"k3":0.18,"k4":0.22,"k5":0.2,"k6":0.2},
{"m":"e","t":2,"s":0.36,"k2":0.18,"k3":0.17,"k4":0.2,"k5":0.2,"k6":0.25},
{"m":"e","t":2,"s":0.4,"k2":0.22,"k3":0.1,"k4":0.28,"k5":0.22,"k6":0.18},
{"m":"e","t":2,"s":0.44,"k2":0.25,"k3":0.1,"k4":0.37,"k5":0.18,"k6":0.1},
{"m":"e","t":2,"s":0.48,"k2":0.25,"k3":0.07,"k4":0.3,"k5":0.16,"k6":0.22},
{"m":"e","t":2,"s":0.52,"k2":0.2,"k3":0.15,"k4":0.37,"k5":0.18,"k6":0.1},
{"m":"e","t":2,"s":0.56,"k2":0.22,"k3":0.16,"k4":0.37,"k5":0.13,"k6":0.12},
{"m":"e","t":2,"s":0.6,"k2":0.25,"k3":0.07,"k4":0.33,"k5":0.17,"k6":0.18},
{"m":"e","t":2,"s":0.64,"k2":0.28,"k3":0.1,"k4":0.24,"k5":0.16,"k6":0.22},
{"m":"e","t":2,"s":0.68,"k2":0.28,"k3":0.12,"k4":0.3,"k5":0.25,"k6":0.05},
{"m":"e","t":2,"s":0.72,"k2":0.25,"k3":0.13,"k4":0.27,"k5":0.17,"k6":0.18},
{"m":"e","t":2,"s":0.76,"k2":0.27,"k3":0.11,"k4":0.24,"k5":0.16,"k6":0.22},
{"m":"e","t":2,"s":0.8,"k2":0.28,"k3":0.14,"k4":0.3,"k5":0.16,"k6":0.12},
{"m":"f","t":6,"s":0,"k2":1},
{"m":"f","t":6,"s":0.04,"k2":1},
{"m":"f","t":6,"s":0.08,"k2":1},
{"m":"f","t":6,"s":0.12,"k2":1},
{"m":"f","t":6,"s":0.16,"k2":1},
{"m":"f","t":6,"s":0.2,"k2":1},
{"m":"f","t":6,"s":0.24,"k2":1},
{"m":"f","t":6,"s":0.28,"k2":1},
{"m":"f","t":6,"s":0.32,"k2":1},
{"m":"f","t":6,"s":0.36,"k2":0.97,"k6":0.03},
{"m":"f","t":6,"s":0.4,"k2":0.88,"k6":0.12},
{"m":"f","t":6,"s":0.44,"k2":0.87,"k6":0.13},
{"m":"f","t":6,"s":0.48,"k2":0.78,"k6":0.22},
{"m":"f","t":6,"s":0.52,"k2":0.75,"k6":0.25},
{"m":"f","t":6,"s":0.56,"k2":0.6,"k6":0.4},
{"m":"f","t":6,"s":0.6,"k2":0.52,"k6":0.48},
{"m":"f","t":6,"s":0.64,"k2":0.52,"k6":0.48},
{"m":"f","t":6,"s":0.68,"k2":0.4,"k6":0.6},
{"m":"f","t":6,"s":0.72,"k2":0.38,"k6":0.62},
{"m":"f","t":6,"s":0.76,"k2":0.25,"k6":0.75},
{"m":"f","t":6,"s":0.8,"k2":0.25,"k6":0.75},
{"m":"f","t":5,"s":0,"k2":1},
{"m":"f","t":5,"s":0.04,"k2":1},
{"m":"f","t":5,"s":0.08,"k2":1},
{"m":"f","t":5,"s":0.12,"k2":1},
{"m":"f","t":5,"s":0.16,"k2":1},
{"m":"f","t":5,"s":0.2,"k2":1},
{"m":"f","t":5,"s":0.24,"k2":1},
{"m":"f","t":5,"s":0.28,"k2":1},
{"m":"f","t":5,"s":0.32,"k2":0.97,"k5":0.03},
{"m":"f","t":5,"s":0.36,"k2":0.9,"k5":0.1},
{"m":"f","t":5,"s":0.4,"k2":0.83,"k5":0.17},
{"m":"f","t":5,"s":0.44,"k2":0.82,"k5":0.18},
{"m":"f","t":5,"s":0.48,"k2":0.78,"k5":0.22},
{"m":"f","t":5,"s":0.52,"k2":0.65,"k5":0.35},
{"m":"f","t":5,"s":0.56,"k2":0.57,"k5":0.43},
{"m":"f","t":5,"s":0.6,"k2":0.48,"k5":0.52},
{"m":"f","t":5,"s":0.64,"k2":0.5,"k5":0.5},
{"m":"f","t":5,"s":0.68,"k2":0.38,"k5":0.62},
{"m":"f","t":5,"s":0.72,"k2":0.38,"k5":0.62},
{"m":"f","t":5,"s":0.76,"k2":0.3,"k5":0.7},
{"m":"f","t":5,"s":0.8,"k2":0.3,"k5":0.7},
{"m":"f","t":4,"s":0,"k2":1},
{"m":"f","t":4,"s":0.04,"k2":1},
{"m":"f","t":4,"s":0.08,"k2":1},
{"m":"f","t":4,"s":0.12,"k2":1},
{"m":"f","t":4,"s":0.16,"k2":1},
{"m":"f","t":4,"s":0.2,"k2":1},
{"m":"f","t":4,"s":0.24,"k2":1},
{"m":"f","t":4,"s":0.28,"k2":1},
{"m":"f","t":4,"s":0.32,"k2":0.95,"k4":0.05},
{"m":"f","t":4,"s":0.36,"k2":0.9,"k4":0.1},
{"m":"f","t":4,"s":0.4,"k2":0.85,"k4":0.15},
{"m":"f","t":4,"s":0.44,"k2":0.85,"k4":0.15},
{"m":"f","t":4,"s":0.48,"k2":0.87,"k4":0.13},
{"m":"f","t":4,"s":0.52,"k2":0.8,"k4":0.2},
{"m":"f","t":4,"s":0.56,"k2":0.82,"k4":0.18},
{"m":"f","t":4,"s":0.6,"k2":0.7,"k4":0.3},
{"m":"f","t":4,"s":0.64,"k2":0.65,"k4":0.35},
{"m":"f","t":4,"s":0.68,"k2":0.65,"k4":0.35},
{"m":"f","t":4,"s":0.72,"k2":0.52,"k4":0.48},
{"m":"f","t":4,"s":0.76,"k2":0.52,"k4":0.48},
{"m":"f","t":4,"s":0.8,"k2":0.52,"k4":0.48},
{"m":"f","t":3,"s":0,"k2":1},
{"m":"f","t":3,"s":0.04,"k2":1},
{"m":"f","t":3,"s":0.08,"k2":1},
{"m":"f","t":3,"s":0.12,"k2":1},
{"m":"f","t":3,"s":0.16,"k2":1},
{"m":"f","t":3,"s":0.2,"k2":1},
{"m":"f","t":3,"s":0.24,"k2":1},
{"m":"f","t":3,"s":0.28,"k2":1},
{"m":"f","t":3,"s":0.32,"k2":1},
{"m":"f","t":3,"s":0.36,"k2":1},
{"m":"f","t":3,"s":0.4,"k2":1},
{"m":"f","t":3,"s":0.44,"k2":1},
{"m":"f","t":3,"s":0.48,"k2":0.97,"k3":0.03},
{"m":"f","t":3,"s":0.52,"k2":0.95,"k3":0.05},
{"m":"f","t":3,"s":0.56,"k2":0.93,"k3":0.07},
{"m":"f","t":3,"s":0.6,"k2":0.9,"k3":0.1},
{"m":"f","t":3,"s":0.64,"k2":0.88,"k3":0.12},
{"m":"f","t":3,"s":0.68,"k2":0.83,"k3":0.17},
{"m":"f","t":3,"s":0.72,"k2":0.83,"k3":0.17},
{"m":"f","t":3,"s":0.76,"k2":0.83,"k3":0.17},
{"m":"f","t":3,"s":0.8,"k2":0.82,"k3":0.18},
{"m":"f","t":2,"s":0,"k2":1},
{"m":"f","t":2,"s":0.04,"k2":1},
{"m":"f","t":2,"s":0.08,"k2":1},
{"m":"f","t":2,"s":0.12,"k2":1},
{"m":"f","t":2,"s":0.16,"k2":1},
{"m":"f","t":2,"s":0.2,"k2":1},
{"m":"f","t":2,"s":0.24,"k2":1},
{"m":"f","t":2,"s":0.28,"k2":1},
{"m":"f","t":2,"s":0.32,"k2":1},
{"m":"f","t":2,"s":0.36,"k2":1},
{"m":"f","t":2,"s":0.4,"k2":1},
{"m":"f","t":2,"s":0.44,"k2":1},
{"m":"f","t":2,"s":0.48,"k2":1},
{"m":"f","t":2,"s":0.52,"k2":1},
{"m":"f","t":2,"s":0.56,"k2":1},
{"m":"f","t":2,"s":0.6,"k2":1},
{"m":"f","t":2,"s":0.64,"k2":1},
{"m":"f","t":2,"s":0.68,"k2":1},
{"m":"f","t":2,"s":0.72,"k2":1},
{"m":"f","t":2,"s":0.76,"k2":1},
{"m":"f","t":2,"s":0.8,"k2":1}
]},
"spacing":41,
"resolve":{"legend":{"color":"independent"}},
"vconcat":[
{"spacing":14,"hconcat":[
 {"spacing":4,"hconcat":[
  {"width":4,"height":244.5,"title":{"text":" ","anchor":"start"},"data":{"values":[{"v":0}]},"mark":{"type":"point","opacity":0},"encoding":{"y":{"field":"v","type":"quantitative","scale":{"domain":[0,1]},"axis":{"title":"Frequency","labels":false,"ticks":false,"domain":true,"domainColor":"black","domainWidth":2,"titleFontSize":11,"titleFontWeight":"bold","titleColor":"black","titlePadding":6}}}},
  {"spacing":2,"title":{"text":"a.","anchor":"start","frame":"group","fontWeight":"bold","dx":-11,"dy":13.5},"vconcat":[
   {"title":{"text":"PAC","anchor":"middle","frame":"bounds","dx":7.5},"data":{"name":"d"},"transform":[{"filter":"datum.m=='a'"},{"fold":["k2","k3","k4","k5","k6"],"as":["est","v"]},{"filter":"datum.v>0"}],"facet":{"row":{"field":"t","type":"ordinal","sort":"descending","header":null}},"spacing":8,"resolve":{"axis":{"x":"independent"}},
    "spec":{"width":182,"height":29.5,"mark":{"type":"bar"},"encoding":{
     "x":{"field":"s","type":"ordinal","title":null,"scale":{"paddingInner":0.12,"paddingOuter":0.03},"axis":{"labelExpr":"round(datum.value*25)%2==1 ? '' : datum.label"}},
     "y":{"field":"v","type":"quantitative","stack":"normalize","title":null,"scale":{"domain":[0,1]},"axis":{"values":[0,0.25,0.5,0.75,1],"labelExpr":"format(datum.value,'~g')"}},
     "color":{"field":"est","type":"nominal","scale":{"domain":["k6","k5","k4","k3","k2"],"range":["#fbc6c6","#f7a0b6","#f06aa8","#cb1d8e","#6c0170"]},"legend":{"title":["True K","━━━━━"],"orient":"none","legendX":697,"legendY":-16,"labelExpr":"'K=' + substring(datum.label,1)"}},
     "order":{"field":"est","sort":"ascending"}}}},
   {"width":182,"height":1,"data":{"values":[{"v":0}]},"mark":{"type":"point","opacity":0},"encoding":{"x":{"field":"v","type":"quantitative","scale":{"domain":[0,1]},"axis":{"title":"Degree of separation","labels":false,"ticks":false,"domain":true,"domainColor":"black","domainWidth":2.5,"titleFontSize":10.5,"titleFontWeight":"bold","titleColor":"black","titlePadding":4}}}}
  ]}
 ]},
 {"spacing":4,"hconcat":[
  {"width":4,"height":244.5,"title":{"text":" ","anchor":"start"},"data":{"values":[{"v":0}]},"mark":{"type":"point","opacity":0},"encoding":{"y":{"field":"v","type":"quantitative","scale":{"domain":[0,1]},"axis":{"title":"Frequency","labels":false,"ticks":false,"domain":true,"domainColor":"black","domainWidth":2,"titleFontSize":11,"titleFontWeight":"bold","titleColor":"black","titlePadding":6}}}},
  {"spacing":2,"title":{"text":"b.","anchor":"start","frame":"group","fontWeight":"bold","dx":-11,"dy":13.5},"vconcat":[
   {"title":{"text":"Δ(K)","anchor":"middle","frame":"bounds","dx":7.5},"data":{"name":"d"},"transform":[{"filter":"datum.m=='b'"},{"fold":["k2","k3","k4","k5","k6"],"as":["est","v"]},{"filter":"datum.v>0"}],"facet":{"row":{"field":"t","type":"ordinal","sort":"descending","header":null}},"spacing":8,"resolve":{"axis":{"x":"independent"}},
    "spec":{"width":182,"height":29.5,"mark":{"type":"bar"},"encoding":{
     "x":{"field":"s","type":"ordinal","title":null,"scale":{"paddingInner":0.12,"paddingOuter":0.03},"axis":{"labelExpr":"round(datum.value*25)%2==1 ? '' : datum.label"}},
     "y":{"field":"v","type":"quantitative","stack":"normalize","title":null,"scale":{"domain":[0,1]},"axis":{"values":[0,0.25,0.5,0.75,1],"labelExpr":"format(datum.value,'~g')"}},
     "color":{"field":"est","type":"nominal","scale":{"domain":["k6","k5","k4","k3","k2"],"range":["#fbc6c6","#f7a0b6","#f06aa8","#cb1d8e","#6c0170"]},"legend":{"title":["True K","━━━━━"],"orient":"none","legendX":697,"legendY":-16,"labelExpr":"'K=' + substring(datum.label,1)"}},
     "order":{"field":"est","sort":"ascending"}}}},
   {"width":182,"height":1,"data":{"values":[{"v":0}]},"mark":{"type":"point","opacity":0},"encoding":{"x":{"field":"v","type":"quantitative","scale":{"domain":[0,1]},"axis":{"title":"Degree of separation","labels":false,"ticks":false,"domain":true,"domainColor":"black","domainWidth":2.5,"titleFontSize":10.5,"titleFontWeight":"bold","titleColor":"black","titlePadding":4}}}}
  ]}
 ]},
 {"spacing":4,"hconcat":[
  {"width":4,"height":244.5,"title":{"text":" ","anchor":"start"},"data":{"values":[{"v":0}]},"mark":{"type":"point","opacity":0},"encoding":{"y":{"field":"v","type":"quantitative","scale":{"domain":[0,1]},"axis":{"title":"Frequency","labels":false,"ticks":false,"domain":true,"domainColor":"black","domainWidth":2,"titleFontSize":11,"titleFontWeight":"bold","titleColor":"black","titlePadding":6}}}},
  {"spacing":2,"title":{"text":"c.","anchor":"start","frame":"group","fontWeight":"bold","dx":-11,"dy":13.5},"vconcat":[
   {"title":{"text":"CLEST","anchor":"middle","frame":"bounds","dx":7.5},"data":{"name":"d"},"transform":[{"filter":"datum.m=='c'"},{"fold":["k2","k3","k4","k5","k6"],"as":["est","v"]},{"filter":"datum.v>0"}],"facet":{"row":{"field":"t","type":"ordinal","sort":"descending","header":null}},"spacing":8,"resolve":{"axis":{"x":"independent"}},
    "spec":{"width":182,"height":29.5,"mark":{"type":"bar"},"encoding":{
     "x":{"field":"s","type":"ordinal","title":null,"scale":{"paddingInner":0.12,"paddingOuter":0.03},"axis":{"labelExpr":"round(datum.value*25)%2==1 ? '' : datum.label"}},
     "y":{"field":"v","type":"quantitative","stack":"normalize","title":null,"scale":{"domain":[0,1]},"axis":{"values":[0,0.25,0.5,0.75,1],"labelExpr":"format(datum.value,'~g')"}},
     "color":{"field":"est","type":"nominal","scale":{"domain":["k6","k5","k4","k3","k2"],"range":["#fbc6c6","#f7a0b6","#f06aa8","#cb1d8e","#6c0170"]},"legend":{"title":["True K","━━━━━"],"orient":"none","legendX":697,"legendY":-16,"labelExpr":"'K=' + substring(datum.label,1)"}},
     "order":{"field":"est","sort":"ascending"}}}},
   {"width":182,"height":1,"data":{"values":[{"v":0}]},"mark":{"type":"point","opacity":0},"encoding":{"x":{"field":"v","type":"quantitative","scale":{"domain":[0,1]},"axis":{"title":"Degree of separation","labels":false,"ticks":false,"domain":true,"domainColor":"black","domainWidth":2.5,"titleFontSize":10.5,"titleFontWeight":"bold","titleColor":"black","titlePadding":4}}}}
  ]}
 ]}
]},
{"spacing":14,"hconcat":[
 {"spacing":4,"hconcat":[
  {"width":4,"height":244.5,"title":{"text":" ","anchor":"start"},"data":{"values":[{"v":0}]},"mark":{"type":"point","opacity":0},"encoding":{"y":{"field":"v","type":"quantitative","scale":{"domain":[0,1]},"axis":{"title":"Frequency","labels":false,"ticks":false,"domain":true,"domainColor":"black","domainWidth":2,"titleFontSize":11,"titleFontWeight":"bold","titleColor":"black","titlePadding":6}}}},
  {"spacing":2,"title":{"text":"d.","anchor":"start","frame":"group","fontWeight":"bold","dx":-11,"dy":13.5},"vconcat":[
   {"title":{"text":"GAP-PC","anchor":"middle","frame":"bounds","dx":7.5},"data":{"name":"d"},"transform":[{"filter":"datum.m=='d'"},{"fold":["k2","k3","k4","k5","k6"],"as":["est","v"]},{"filter":"datum.v>0"}],"facet":{"row":{"field":"t","type":"ordinal","sort":"descending","header":null}},"spacing":8,"resolve":{"axis":{"x":"independent"}},
    "spec":{"width":182,"height":29.5,"mark":{"type":"bar"},"encoding":{
     "x":{"field":"s","type":"ordinal","title":null,"scale":{"paddingInner":0.12,"paddingOuter":0.03},"axis":{"labelExpr":"round(datum.value*25)%2==1 ? '' : datum.label"}},
     "y":{"field":"v","type":"quantitative","stack":"normalize","title":null,"scale":{"domain":[0,1]},"axis":{"values":[0,0.25,0.5,0.75,1],"labelExpr":"format(datum.value,'~g')"}},
     "color":{"field":"est","type":"nominal","scale":{"domain":["k6","k5","k4","k3","k2"],"range":["#fbc6c6","#f7a0b6","#f06aa8","#cb1d8e","#6c0170"]},"legend":{"title":["True K","━━━━━"],"orient":"none","legendX":697,"legendY":-16,"labelExpr":"'K=' + substring(datum.label,1)"}},
     "order":{"field":"est","sort":"ascending"}}}},
   {"width":182,"height":1,"data":{"values":[{"v":0}]},"mark":{"type":"point","opacity":0},"encoding":{"x":{"field":"v","type":"quantitative","scale":{"domain":[0,1]},"axis":{"title":"Degree of separation","labels":false,"ticks":false,"domain":true,"domainColor":"black","domainWidth":2.5,"titleFontSize":10.5,"titleFontWeight":"bold","titleColor":"black","titlePadding":4}}}}
  ]}
 ]},
 {"spacing":4,"hconcat":[
  {"width":4,"height":244.5,"title":{"text":" ","anchor":"start"},"data":{"values":[{"v":0}]},"mark":{"type":"point","opacity":0},"encoding":{"y":{"field":"v","type":"quantitative","scale":{"domain":[0,1]},"axis":{"title":"Frequency","labels":false,"ticks":false,"domain":true,"domainColor":"black","domainWidth":2,"titleFontSize":11,"titleFontWeight":"bold","titleColor":"black","titlePadding":6}}}},
  {"spacing":2,"title":{"text":"e.","anchor":"start","frame":"group","fontWeight":"bold","dx":-11,"dy":13.5},"vconcat":[
   {"title":{"text":"Modified GAP-PC","anchor":"middle","frame":"bounds","dx":7.5},"data":{"name":"d"},"transform":[{"filter":"datum.m=='e'"},{"fold":["k2","k3","k4","k5","k6"],"as":["est","v"]},{"filter":"datum.v>0"}],"facet":{"row":{"field":"t","type":"ordinal","sort":"descending","header":null}},"spacing":8,"resolve":{"axis":{"x":"independent"}},
    "spec":{"width":182,"height":29.5,"mark":{"type":"bar"},"encoding":{
     "x":{"field":"s","type":"ordinal","title":null,"scale":{"paddingInner":0.12,"paddingOuter":0.03},"axis":{"labelExpr":"round(datum.value*25)%2==1 ? '' : datum.label"}},
     "y":{"field":"v","type":"quantitative","stack":"normalize","title":null,"scale":{"domain":[0,1]},"axis":{"values":[0,0.25,0.5,0.75,1],"labelExpr":"format(datum.value,'~g')"}},
     "color":{"field":"est","type":"nominal","scale":{"domain":["k6","k5","k4","k3","k2"],"range":["#fbc6c6","#f7a0b6","#f06aa8","#cb1d8e","#6c0170"]},"legend":{"title":["True K","━━━━━"],"orient":"none","legendX":697,"legendY":-16,"labelExpr":"'K=' + substring(datum.label,1)"}},
     "order":{"field":"est","sort":"ascending"}}}},
   {"width":182,"height":1,"data":{"values":[{"v":0}]},"mark":{"type":"point","opacity":0},"encoding":{"x":{"field":"v","type":"quantitative","scale":{"domain":[0,1]},"axis":{"title":"Degree of separation","labels":false,"ticks":false,"domain":true,"domainColor":"black","domainWidth":2.5,"titleFontSize":10.5,"titleFontWeight":"bold","titleColor":"black","titlePadding":4}}}}
  ]}
 ]},
 {"spacing":4,"hconcat":[
  {"width":4,"height":244.5,"title":{"text":" ","anchor":"start"},"data":{"values":[{"v":0}]},"mark":{"type":"point","opacity":0},"encoding":{"y":{"field":"v","type":"quantitative","scale":{"domain":[0,1]},"axis":{"title":"Frequency","labels":false,"ticks":false,"domain":true,"domainColor":"black","domainWidth":2,"titleFontSize":11,"titleFontWeight":"bold","titleColor":"black","titlePadding":6}}}},
  {"spacing":2,"title":{"text":"f.","anchor":"start","frame":"group","fontWeight":"bold","dx":-11,"dy":13.5},"vconcat":[
   {"title":{"text":"Silhouette width","anchor":"middle","frame":"bounds","dx":7.5},"data":{"name":"d"},"transform":[{"filter":"datum.m=='f'"},{"fold":["k2","k3","k4","k5","k6"],"as":["est","v"]},{"filter":"datum.v>0"}],"facet":{"row":{"field":"t","type":"ordinal","sort":"descending","header":null}},"spacing":8,"resolve":{"axis":{"x":"independent"}},
    "spec":{"width":182,"height":29.5,"mark":{"type":"bar"},"encoding":{
     "x":{"field":"s","type":"ordinal","title":null,"scale":{"paddingInner":0.12,"paddingOuter":0.03},"axis":{"labelExpr":"round(datum.value*25)%2==1 ? '' : datum.label"}},
     "y":{"field":"v","type":"quantitative","stack":"normalize","title":null,"scale":{"domain":[0,1]},"axis":{"values":[0,0.25,0.5,0.75,1],"labelExpr":"format(datum.value,'~g')"}},
     "color":{"field":"est","type":"nominal","scale":{"domain":["k6","k5","k4","k3","k2"],"range":["#fbc6c6","#f7a0b6","#f06aa8","#cb1d8e","#6c0170"]},"legend":{"title":["True K","━━━━━"],"orient":"none","legendX":697,"legendY":-16,"labelExpr":"'K=' + substring(datum.label,1)"}},
     "order":{"field":"est","sort":"ascending"}}}},
   {"width":182,"height":1,"data":{"values":[{"v":0}]},"mark":{"type":"point","opacity":0},"encoding":{"x":{"field":"v","type":"quantitative","scale":{"domain":[0,1]},"axis":{"title":"Degree of separation","labels":false,"ticks":false,"domain":true,"domainColor":"black","domainWidth":2.5,"titleFontSize":10.5,"titleFontWeight":"bold","titleColor":"black","titlePadding":4}}}}
  ]}
 ]}
]}
]
}
